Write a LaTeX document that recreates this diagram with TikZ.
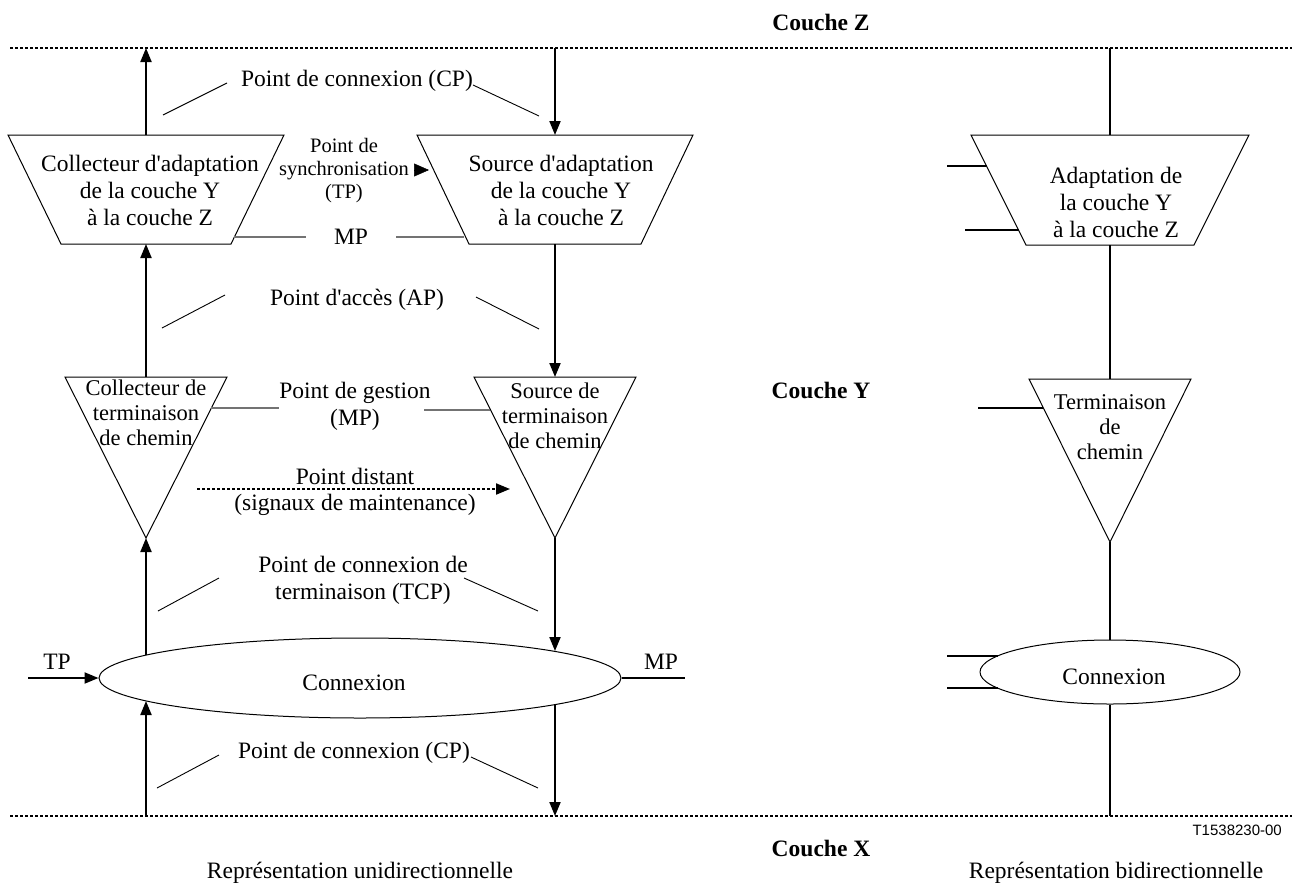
\documentclass[tikz,border=0pt]{standalone}
\usepackage{fontspec}
\setmainfont{Liberation Serif}[Ligatures=TeXOff]
\setsansfont{Liberation Sans}
\usetikzlibrary{arrows.meta,shapes.geometric}
\begin{document}
\begin{tikzpicture}[x=1pt,y=-1pt,
  txt/.style={font=\fontsize{23.5}{27}\selectfont, align=center, inner sep=0pt},
  tri/.style={font=\fontsize{22.5}{25}\selectfont, align=center, inner sep=0pt},
  small/.style={font=\fontsize{20.5}{23}\selectfont, align=center, inner sep=0pt},
  bold/.style={font=\fontsize{23.5}{27}\selectfont\bfseries, inner sep=0pt},
  code/.style={font=\sffamily\fontsize{15}{17}\selectfont, inner sep=0pt},
  box/.style={draw, line width=1pt, line join=miter},
  flow/.style={line width=2pt, -{Triangle[length=14pt,width=11pt]}},
  plain/.style={line width=1.2pt},
  stub/.style={line width=2pt},
  leader/.style={line width=0.9pt},
  mpl/.style={line width=1.6pt, black!55},
  layer/.style={line width=2pt, dash pattern=on 3pt off 2pt}
]
\useasboundingbox (0,0) rectangle (1292,886);

% layers
\coordinate (zL) at (10,48); \coordinate (zR) at (1292,48);
\coordinate (xL) at (10,816); \coordinate (xR) at (1292,816);
\draw[layer] (zL) -- (zR);
\draw[layer] (xL) -- (xR);

% ---------- left: unidirectional ----------
\coordinate (aLt) at (146,135); \coordinate (aLb) at (146,244);
\draw[box] (8,135) -- (284,135) -- (231,244) -- (61,244) -- cycle;
\node[txt] (aLtxt) at (150,190) {Collecteur d'adaptation\\de la couche Y\\à la couche Z};
\coordinate (aRt) at (555,135); \coordinate (aRb) at (555,244);
\draw[box] (417,135) -- (693,135) -- (641,244) -- (469,244) -- cycle;
\node[txt] (aRtxt) at (561,190) {Source d'adaptation\\de la couche Y\\à la couche Z};

\coordinate (tLt) at (146,377); \coordinate (tLb) at (146,538);
\draw[box] (65,377) -- (227,377) -- (tLb) -- cycle;
\node[tri] (tLtxt) at (146,413) {Collecteur de\\terminaison\\de chemin};
\coordinate (tRt) at (555,377); \coordinate (tRb) at (555,538);
\draw[box] (474,377) -- (636,377) -- (tRb) -- cycle;
\node[tri] (tRtxt) at (555,416) {Source de\\terminaison\\de chemin};

\node[draw, line width=1pt, ellipse, minimum width=522pt, minimum height=80pt, inner sep=0pt] (conn) at (360,678) {};
\node[txt] (conntxt) at (354,683) {Connexion};
\coordinate (cLt) at (146,655); \coordinate (cLb) at (146,701);
\coordinate (cRt) at (555,651); \coordinate (cRb) at (555,705);

\coordinate (zLc) at (146,48); \coordinate (xLc) at (146,816);
\coordinate (zRc) at (555,48); \coordinate (xRc) at (555,816);

\draw[flow] (aLt) -- (zLc);
\draw[flow] (tLt) -- (aLb);
\draw[flow] (cLt) -- (tLb);
\draw[flow] (xLc) -- (cLb);
\draw[flow] (zRc) -- (aRt);
\draw[flow] (aRb) -- (tRt);
\draw[flow] (tRb) -- (cRt);
\draw[flow] (cRb) -- (xRc);

\coordinate (tpin) at (28,678);
\draw[flow] (tpin) -- (conn.west);
\node[txt] (tplab) at (57,662) {TP};
\coordinate (mpout) at (685,678);
\draw[stub] (conn.east) -- (mpout);
\node[txt] (mplab) at (661,662) {MP};

\node[txt] (cp1) at (357,81) {Point de connexion (CP)};
\draw[leader] (163,115) -- (227,83);
\draw[leader] (473,85) -- (539,116);

\node[small] (sync) at (344,171) {Point de\\synchronisation\\(TP)};
\coordinate (syncA) at (414,170); \coordinate (syncB) at (429,170);
\draw[line width=0.5pt, -{Triangle[length=15pt,width=13pt]}] (syncA) -- (syncB);

\node[txt] (mp1) at (351,237) {MP};
\draw[mpl] (234,237) -- (306,237);
\draw[mpl] (396,237) -- (464,237);

\node[txt] (ap) at (357,300) {Point d'accès (AP)};
\draw[leader] (162,328) -- (225,295);
\draw[leader] (476,297) -- (539,329);

\node[txt] (gest) at (355,406) {Point de gestion\\(MP)};
\draw[mpl] (211,408) -- (279,408);
\draw[mpl] (424,410) -- (490,410);

\node[txt] (dist1) at (355,476) {Point distant};
\node[txt] (dist2) at (355,505) {(signaux de maintenance)};
\coordinate (distA) at (197,489); \coordinate (distB) at (510,489);
\draw[line width=2pt, dash pattern=on 3pt off 2pt, -{Triangle[length=14pt,width=11pt]}] (distA) -- (distB);

\node[txt] (tcp) at (363,580) {Point de connexion de\\terminaison (TCP)};
\draw[leader] (158,611) -- (219,578);
\draw[leader] (464,578) -- (538,611);

\node[txt] (cp2) at (354,753) {Point de connexion (CP)};
\draw[leader] (157,788) -- (219,755);
\draw[leader] (471,757) -- (538,788);

\node[txt] (uni) at (360,873) {Représentation unidirectionnelle};

% ---------- middle labels ----------
\node[bold] (cz) at (821,22) {Couche Z};
\node[bold] (cy) at (821,390) {Couche Y};
\node[bold] (cx) at (821,848) {Couche X};
\node[code, anchor=east] (ref) at (1282,830) {T1538230-00};

% ---------- right: bidirectional ----------
\coordinate (bAt) at (1110,135); \coordinate (bAb) at (1110,245);
\draw[box] (971,135) -- (1249,135) -- (1194,245) -- (1026,245) -- cycle;
\node[txt] (bAtxt) at (1116,202) {Adaptation de\\la couche Y\\à la couche Z};
\coordinate (bTt) at (1110,379); \coordinate (bTb) at (1110,542);
\draw[box] (1029,379) -- (1191,379) -- (bTb) -- cycle;
\node[tri] (bTtxt) at (1110,427) {Terminaison\\de\\chemin};
\node[draw, line width=1pt, ellipse, minimum width=260pt, minimum height=64pt, inner sep=0pt] (bconn) at (1110,672) {};
\node[txt] (bconntxt) at (1114,677) {Connexion};
\coordinate (zB) at (1110,48); \coordinate (xB) at (1110,816);

\draw[plain] (zB) -- (bAt);
\draw[plain] (bAb) -- (bTt);
\draw[plain] (bTb) -- (bconn.north);
\draw[plain] (bconn.south) -- (xB);

\draw[stub] (947,166) -- (986.5,166);
\draw[stub] (965,230) -- (1018.5,230);
\draw[stub] (978,408) -- (1043.4,408);
\draw[plain] (947,656) -- (998,656);
\draw[plain] (947,688) -- (998,688);

\node[txt] (bi) at (1116,873) {Représentation bidirectionnelle};
\end{tikzpicture}
\end{document}
